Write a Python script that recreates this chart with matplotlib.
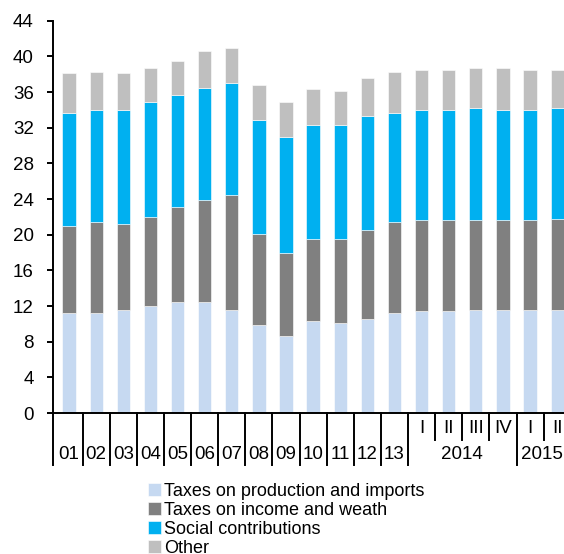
import matplotlib
matplotlib.use('Agg')
import matplotlib.pyplot as plt
import numpy as np

plt.rcParams['font.family'] = ['Liberation Sans', 'DejaVu Sans']

# x categories: years 2001-2013, then quarters of 2014 and 2015
labels = ['01', '02', '03', '04', '05', '06', '07', '08', '09', '10', '11', '12', '13',
          'I', 'II', 'III', 'IV', 'I', 'II']
group_labels = ['2014', '2015']

# series values (% of GDP)
production = [11.2, 11.2, 11.6, 12.0, 12.4, 12.4, 11.6, 9.9, 8.6, 10.3, 10.1, 10.5, 11.2,
              11.4, 11.4, 11.6, 11.6, 11.6, 11.6]
income = [9.8, 10.2, 9.6, 10.0, 10.7, 11.5, 12.8, 10.2, 9.4, 9.2, 9.4, 10.0, 10.2,
          10.2, 10.2, 10.0, 10.0, 10.0, 10.2]
social = [12.7, 12.6, 12.8, 12.9, 12.6, 12.6, 12.6, 12.8, 13.0, 12.8, 12.8, 12.8, 12.3,
          12.4, 12.4, 12.6, 12.4, 12.4, 12.4]
other = [4.4, 4.3, 4.1, 3.8, 3.8, 4.1, 4.0, 3.9, 3.9, 4.1, 3.8, 4.3, 4.6,
         4.5, 4.5, 4.5, 4.7, 4.5, 4.3]

series = [
    ('Taxes on production and imports', production, '#C6D9F1'),
    ('Taxes on income and weath', income, '#808080'),
    ('Social contributions', social, '#00B0F0'),
    ('Other', other, '#BFBFBF'),
]

fig = plt.figure(figsize=(5.64, 5.54), dpi=100)
ax = fig.add_axes([0.0945, 0.2545, 0.9055, 0.708])

x = np.arange(len(labels))
bottom = np.zeros(len(labels))
for name, vals, color in series:
    ax.bar(x, vals, width=0.49, bottom=bottom, color=color, label=name,
           edgecolor='white', linewidth=0.4)
    bottom += np.array(vals)

ax.set_xlim(-0.58, 18.25)
ax.set_ylim(0, 44)
ax.set_yticks(np.arange(0, 45, 4))
ax.tick_params(axis='y', labelsize=13.5, length=4, width=1.4, pad=10, direction='out')
ax.set_xticks([])
for s in ['top', 'right']:
    ax.spines[s].set_visible(False)
ax.spines['left'].set_linewidth(1.4)
ax.spines['bottom'].set_linewidth(1.4)

# category axis: long separators between years/groups, short between quarters
trans = ax.get_xaxis_transform()
long_y = -0.1326
short_y = -0.0688
long_pos = [-0.58] + [i + 0.5 for i in range(13)] + [16.5]
short_pos = [13.5, 14.5, 15.5, 17.5]
for p in long_pos:
    ax.plot([p, p], [0, long_y], color='black', lw=1.4, transform=trans, clip_on=False)
for p in short_pos:
    ax.plot([p, p], [0, short_y], color='black', lw=1.4, transform=trans, clip_on=False)

for i, lab in enumerate(labels):
    if i < 13:
        ax.text(i, -0.106, lab, transform=trans, ha='center', va='center', fontsize=13.5)
    else:
        ax.text(i, -0.039, lab, transform=trans, ha='center', va='center', fontsize=13.5)
ax.text(14.5, -0.106, group_labels[0], transform=trans, ha='center', va='center', fontsize=13.5)
ax.text(17.45, -0.106, group_labels[1], transform=trans, ha='center', va='center', fontsize=13.5)

fig.legend(loc='upper left', bbox_to_anchor=(0.262, 0.128), frameon=False,
           fontsize=13, handlelength=0.75, handleheight=0.75, handletextpad=0.15,
           labelspacing=0.1, borderpad=0, borderaxespad=0)

fig.savefig('out.png', dpi=100)
